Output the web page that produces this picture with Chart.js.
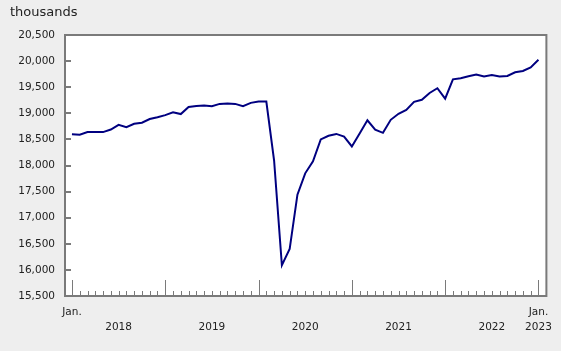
<!DOCTYPE html>
<html>
<head>
<meta charset="utf-8">
<script src="https://cdn.jsdelivr.net/npm/chart.js@4.4.1/dist/chart.umd.min.js"></script>
<style>
  html, body { margin: 0; padding: 0; background: #eeeeee; }
</style>
</head>
<body>
<canvas id="myChart" width="561" height="351"></canvas>
<script>
// monthly values, Jan. 2018 to Jan. 2023 (thousands)
const months = [
  '2018-01','2018-02','2018-03','2018-04','2018-05','2018-06','2018-07','2018-08','2018-09','2018-10','2018-11','2018-12',
  '2019-01','2019-02','2019-03','2019-04','2019-05','2019-06','2019-07','2019-08','2019-09','2019-10','2019-11','2019-12',
  '2020-01','2020-02','2020-03','2020-04','2020-05','2020-06','2020-07','2020-08','2020-09','2020-10','2020-11','2020-12',
  '2021-01','2021-02','2021-03','2021-04','2021-05','2021-06','2021-07','2021-08','2021-09','2021-10','2021-11','2021-12',
  '2022-01','2022-02','2022-03','2022-04','2022-05','2022-06','2022-07','2022-08','2022-09','2022-10','2022-11','2022-12',
  '2023-01'
];
const values = [
  18600, 18590, 18640, 18640, 18640, 18690, 18780, 18735, 18800, 18820, 18890, 18925,
  18965, 19020, 18985, 19120, 19140, 19150, 19135, 19180, 19190, 19180, 19135, 19200,
  19225, 19225, 18095, 16090, 16400, 17440, 17850, 18080, 18500, 18570, 18605, 18555,
  18365, 18615, 18865, 18685, 18625, 18875, 18990, 19065, 19220, 19260, 19390, 19480,
  19280, 19650, 19670, 19710, 19745, 19705, 19735, 19705, 19715, 19785, 19810, 19880,
  20025
];
const yTicks = [15500, 16000, 16500, 17000, 17500, 18000, 18500, 19000, 19500, 20000, 20500];
// x labels: index in months -> label lines
const xLabelIdx = [0, 6, 18, 30, 42, 54, 60];
const xLabels = [['Jan.', ''], ['', '2018'], ['', '2019'], ['', '2020'], ['', '2021'], ['', '2022'], ['Jan.', '2023']];

Chart.defaults.font.family = '"DejaVu Sans", Verdana, sans-serif';
Chart.defaults.color = '#222';

const frame = {
  id: 'frame',
  beforeDraw(chart) {
    const { ctx, chartArea: a } = chart;
    ctx.save();
    ctx.fillStyle = '#ffffff';
    ctx.fillRect(a.left, a.top, a.right - a.left, a.bottom - a.top);
    ctx.restore();
  },
  afterDatasetsDraw(chart) {
    const { ctx, chartArea: a, scales } = chart;
    ctx.save();
    ctx.strokeStyle = '#7a7a7a';
    ctx.lineWidth = 2;
    ctx.strokeRect(a.left, a.top, a.right - a.left, a.bottom - a.top);
    ctx.beginPath();
    yTicks.forEach(v => {
      const py = Math.round(scales.y.getPixelForValue(v));
      ctx.moveTo(a.left, py);
      ctx.lineTo(a.left + 6, py);
    });
    ctx.stroke();
    ctx.lineWidth = 1;
    ctx.beginPath();
    months.forEach((m, i) => {
      const px = Math.round(scales.x.getPixelForValue(i)) + 0.5;
      const len = i % 12 === 0 ? 16 : 5;
      ctx.moveTo(px, a.bottom);
      ctx.lineTo(px, a.bottom - len);
    });
    ctx.stroke();
    ctx.restore();
  }
};

var ctx = document.getElementById('myChart');
var myChart = new Chart(ctx, {
  type: 'line',
  data: {
    datasets: [{
      data: values.map((v, i) => ({ x: i, y: v })),
      borderColor: '#000080',
      borderWidth: 2,
      pointRadius: 0,
      tension: 0,
      fill: false
    }]
  },
  options: {
    responsive: false,
    animation: false,
    layout: { padding: { left: 10, right: 11, top: 0, bottom: 0 } },
    plugins: {
      legend: { display: false },
      tooltip: { enabled: false },
      title: {
        display: true,
        text: 'thousands',
        align: 'start',
        color: '#222',
        font: { size: 13, weight: 'normal', lineHeight: 1.2 },
        padding: { top: 5, bottom: 14.4 }
      }
    },
    scales: {
      x: {
        type: 'linear',
        min: -0.894,
        max: 61.02,
        grid: { display: false, drawTicks: false },
        border: { display: false },
        afterBuildTicks: scale => { scale.ticks = xLabelIdx.map(v => ({ value: v })); },
        afterFit: scale => { scale.height = 55; },
        ticks: {
          autoSkip: false,
          maxRotation: 0,
          padding: 9,
          font: { size: 10.5, lineHeight: 1.4 },
          callback: v => {
            const k = xLabelIdx.indexOf(v);
            return k >= 0 ? xLabels[k] : '';
          }
        }
      },
      y: {
        min: 15500,
        max: 20500,
        grid: { display: false, drawTicks: false },
        border: { display: false },
        afterBuildTicks: scale => { scale.ticks = yTicks.map(v => ({ value: v })); },
        afterFit: scale => { scale.width = 55; },
        ticks: {
          padding: 10,
          font: { size: 10.5 },
          callback: v => v.toLocaleString('en-US')
        }
      }
    }
  },
  plugins: [frame]
});
</script>
</body>
</html>
